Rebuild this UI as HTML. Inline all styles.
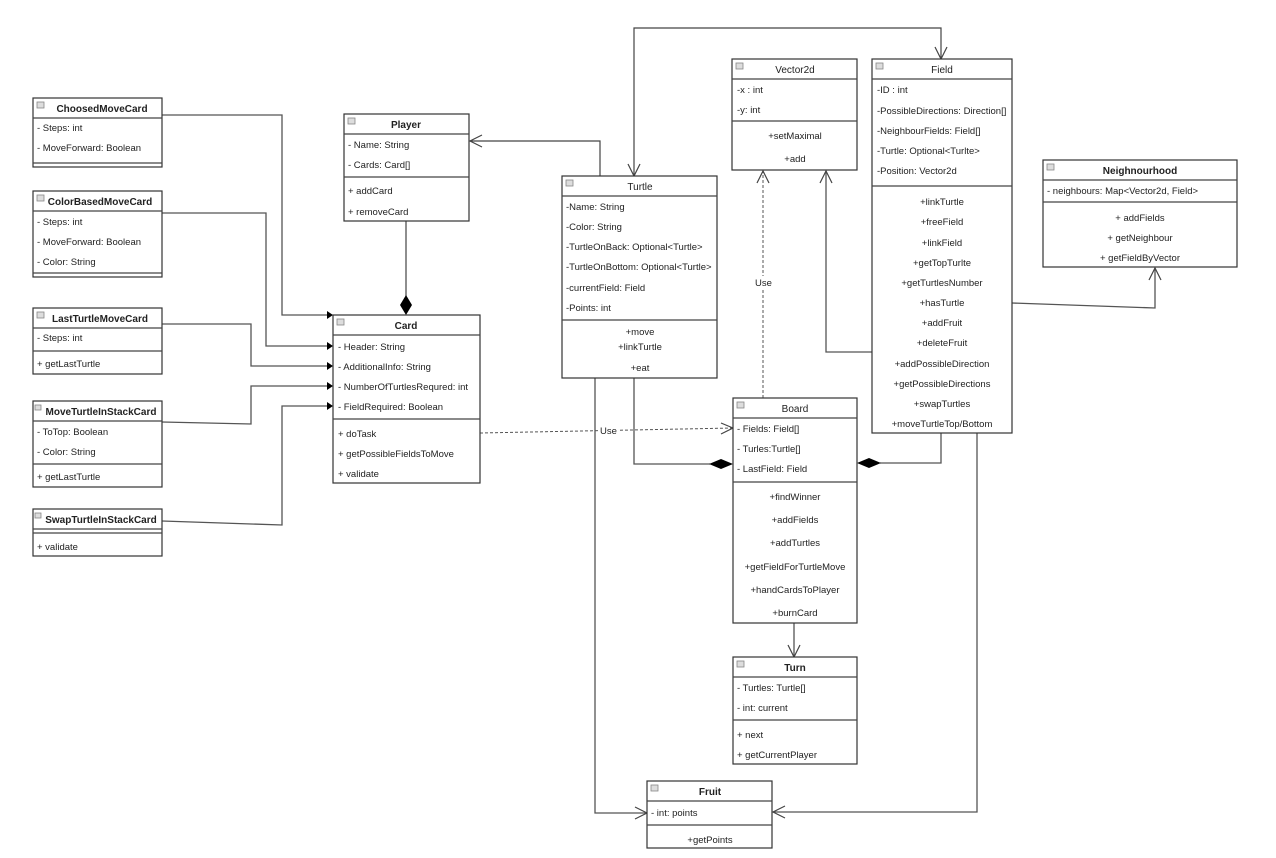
<!DOCTYPE html>
<html><head><meta charset="utf-8"><style>
html,body{margin:0;padding:0;background:#fff;}
svg{display:block;font-family:"Liberation Sans",sans-serif;font-size:9.5px;}
.b{fill:#fff;stroke:#333;stroke-width:1.2}
.l{stroke:#444;stroke-width:1.2;fill:none}
.c{stroke:#555;stroke-width:1.3;fill:none}
.d{stroke:#555;stroke-width:1;fill:none;stroke-dasharray:3,2}
text{fill:#222}
.t{font-size:10px}
.bd{font-weight:bold}
.m{text-anchor:middle}
.ic{fill:#ddd;stroke:#888;stroke-width:0.8}
</style></head><body>
<svg width="1276" height="858" viewBox="0 0 1276 858" xmlns="http://www.w3.org/2000/svg">
<rect width="1276" height="858" fill="#fff"/>

<!-- connectors -->
<path class="c" d="M162 115 H282 V315 H328"/>
<path class="c" d="M162 213 H266 V346 H328"/>
<path class="c" d="M162 324 H251 V366 H328"/>
<path class="c" d="M162 422 L251 424 V386 H328"/>
<path class="c" d="M162 521 L282 525 V406 H328"/>
<g fill="#000">
<polygon points="333,315 327,311 327,319"/>
<polygon points="333,346 327,342 327,350"/>
<polygon points="333,366 327,362 327,370"/>
<polygon points="333,386 327,382 327,390"/>
<polygon points="333,406 327,402 327,410"/>
</g>
<path class="l" d="M406 221 V296"/>
<polygon points="406,295 412,305 406,315 400,305" fill="#000"/>
<path class="l" d="M600 176 V141 H470"/>
<path class="l" d="M482 135 L470 141 L482 147"/>
<path class="l" d="M634 176 V28 H941 V59"/>
<path class="l" d="M628 164 L634 176 L640 164"/>
<path class="l" d="M935 47 L941 59 L947 47"/>
<path class="d" d="M480 433 L733 428"/>
<path class="l" d="M721 423 L733 428 L721 434"/>
<rect x="598" y="425" width="20" height="11" fill="#fff"/>
<text x="600" y="434">Use</text>
<path class="d" d="M763 398 V171"/>
<path class="l" d="M757 183 L763 171 L769 183"/>
<rect x="753" y="276" width="22" height="12" fill="#fff"/>
<text x="755" y="286">Use</text>
<path class="c" d="M872 352 H826 V171"/>
<path class="l" d="M820 183 L826 171 L832 183"/>
<path class="c" d="M1012 303 L1155 308 V268"/>
<path class="l" d="M1149 280 L1155 268 L1161 280"/>
<path class="c" d="M634 378 V464 H710"/>
<polygon points="733,464 721,459 709,464 721,469" fill="#000"/>
<path class="c" d="M941 433 V463 H880"/>
<polygon points="857,463 869,458 881,463 869,468" fill="#000"/>
<path class="c" d="M794 623 V657"/>
<path class="l" d="M788 645 L794 657 L800 645"/>
<path class="c" d="M595 378 V813 H647"/>
<path class="l" d="M635 807 L647 813 L635 819"/>
<path class="c" d="M977 433 V812 H773"/>
<path class="l" d="M785 806 L773 812 L785 818"/>

<!-- ChoosedMoveCard -->
<rect class="b" x="33" y="98" width="129" height="69"/>
<line class="l" x1="33" y1="118" x2="162" y2="118"/><line class="l" x1="33" y1="163" x2="162" y2="163"/>
<rect class="ic" x="37" y="102" width="7" height="6"/>
<text class="t bd m" x="102" y="112">ChoosedMoveCard</text>
<text x="37" y="131">- Steps: int</text><text x="37" y="151">- MoveForward: Boolean</text>

<!-- ColorBasedMoveCard -->
<rect class="b" x="33" y="191" width="129" height="86"/>
<line class="l" x1="33" y1="211" x2="162" y2="211"/><line class="l" x1="33" y1="273" x2="162" y2="273"/>
<rect class="ic" x="37" y="195" width="7" height="6"/>
<text class="t bd m" x="100" y="205">ColorBasedMoveCard</text>
<text x="37" y="225">- Steps: int</text><text x="37" y="245">- MoveForward: Boolean</text><text x="37" y="265">- Color: String</text>

<!-- LastTurtleMoveCard -->
<rect class="b" x="33" y="308" width="129" height="66"/>
<line class="l" x1="33" y1="328" x2="162" y2="328"/><line class="l" x1="33" y1="351" x2="162" y2="351"/>
<rect class="ic" x="37" y="312" width="7" height="6"/>
<text class="t bd m" x="100" y="322">LastTurtleMoveCard</text>
<text x="37" y="341">- Steps: int</text><text x="37" y="367">+ getLastTurtle</text>

<!-- MoveTurtleInStackCard -->
<rect class="b" x="33" y="401" width="129" height="86"/>
<line class="l" x1="33" y1="421" x2="162" y2="421"/><line class="l" x1="33" y1="464" x2="162" y2="464"/>
<rect class="ic" x="35" y="405" width="6" height="5"/>
<text class="t bd m" x="101" y="415">MoveTurtleInStackCard</text>
<text x="37" y="435">- ToTop: Boolean</text><text x="37" y="455">- Color: String</text><text x="37" y="480">+ getLastTurtle</text>

<!-- SwapTurtleInStackCard -->
<rect class="b" x="33" y="509" width="129" height="47"/>
<line class="l" x1="33" y1="529" x2="162" y2="529"/><line class="l" x1="33" y1="533" x2="162" y2="533"/>
<rect class="ic" x="35" y="513" width="6" height="5"/>
<text class="t bd m" x="101" y="523">SwapTurtleInStackCard</text>
<text x="37" y="550">+ validate</text>

<!-- Player -->
<rect class="b" x="344" y="114" width="125" height="107"/>
<line class="l" x1="344" y1="134" x2="469" y2="134"/><line class="l" x1="344" y1="177" x2="469" y2="177"/>
<rect class="ic" x="348" y="118" width="7" height="6"/>
<text class="t bd m" x="406" y="128">Player</text>
<text x="348" y="148">- Name: String</text><text x="348" y="168">- Cards: Card[]</text>
<text x="348" y="194">+ addCard</text><text x="348" y="215">+ removeCard</text>

<!-- Card -->
<rect class="b" x="333" y="315" width="147" height="168"/>
<line class="l" x1="333" y1="335" x2="480" y2="335"/><line class="l" x1="333" y1="419" x2="480" y2="419"/>
<rect class="ic" x="337" y="319" width="7" height="6"/>
<text class="t bd m" x="406" y="329">Card</text>
<text x="338" y="350">- Header: String</text><text x="338" y="370">- AdditionalInfo: String</text>
<text x="338" y="390">- NumberOfTurtlesRequred: int</text><text x="338" y="410">- FieldRequired: Boolean</text>
<text x="338" y="437">+ doTask</text><text x="338" y="457">+ getPossibleFieldsToMove</text><text x="338" y="477">+ validate</text>

<!-- Turtle -->
<rect class="b" x="562" y="176" width="155" height="202"/>
<line class="l" x1="562" y1="196" x2="717" y2="196"/><line class="l" x1="562" y1="320" x2="717" y2="320"/>
<rect class="ic" x="566" y="180" width="7" height="6"/>
<text class="t m" x="640" y="190">Turtle</text>
<text x="566" y="210">-Name: String</text><text x="566" y="230">-Color: String</text>
<text x="566" y="250">-TurtleOnBack: Optional&lt;Turtle&gt;</text><text x="566" y="270">-TurtleOnBottom: Optional&lt;Turtle&gt;</text>
<text x="566" y="291">-currentField: Field</text><text x="566" y="311">-Points: int</text>
<text class="m" x="640" y="335">+move</text><text class="m" x="640" y="350">+linkTurtle</text><text class="m" x="640" y="371">+eat</text>

<!-- Vector2d -->
<rect class="b" x="732" y="59" width="125" height="111"/>
<line class="l" x1="732" y1="79" x2="857" y2="79"/><line class="l" x1="732" y1="121" x2="857" y2="121"/>
<rect class="ic" x="736" y="63" width="7" height="6"/>
<text class="t m" x="795" y="73">Vector2d</text>
<text x="737" y="93">-x : int</text><text x="737" y="113">-y: int</text>
<text class="m" x="795" y="139">+setMaximal</text><text class="m" x="795" y="162">+add</text>

<!-- Field -->
<rect class="b" x="872" y="59" width="140" height="374"/>
<line class="l" x1="872" y1="79" x2="1012" y2="79"/><line class="l" x1="872" y1="186" x2="1012" y2="186"/>
<rect class="ic" x="876" y="63" width="7" height="6"/>
<text class="t m" x="942" y="73">Field</text>
<text x="877" y="93">-ID : int</text><text x="877" y="114">-PossibleDirections: Direction[]</text>
<text x="877" y="134">-NeighbourFields: Field[]</text><text x="877" y="154">-Turtle: Optional&lt;Turlte&gt;</text>
<text x="877" y="174">-Position: Vector2d</text>
<g class="m">
<text x="942" y="205">+linkTurtle</text><text x="942" y="225">+freeField</text><text x="942" y="246">+linkField</text>
<text x="942" y="266">+getTopTurlte</text><text x="942" y="286">+getTurtlesNumber</text><text x="942" y="306">+hasTurtle</text>
<text x="942" y="326">+addFruit</text><text x="942" y="346">+deleteFruit</text><text x="942" y="367">+addPossibleDirection</text>
<text x="942" y="387">+getPossibleDirections</text><text x="942" y="407">+swapTurtles</text><text x="942" y="427">+moveTurtleTop/Bottom</text>
</g>

<!-- Neighnourhood -->
<rect class="b" x="1043" y="160" width="194" height="107"/>
<line class="l" x1="1043" y1="180" x2="1237" y2="180"/><line class="l" x1="1043" y1="202" x2="1237" y2="202"/>
<rect class="ic" x="1047" y="164" width="7" height="6"/>
<text class="t bd m" x="1140" y="174">Neighnourhood</text>
<text x="1047" y="194">- neighbours: Map&lt;Vector2d, Field&gt;</text>
<text class="m" x="1140" y="221">+ addFields</text><text class="m" x="1140" y="241">+ getNeighbour</text><text class="m" x="1140" y="261">+ getFieldByVector</text>

<!-- Board -->
<rect class="b" x="733" y="398" width="124" height="225"/>
<line class="l" x1="733" y1="418" x2="857" y2="418"/><line class="l" x1="733" y1="482" x2="857" y2="482"/>
<rect class="ic" x="737" y="402" width="7" height="6"/>
<text class="t m" x="795" y="412">Board</text>
<text x="737" y="432">- Fields: Field[]</text><text x="737" y="452">- Turles:Turtle[]</text><text x="737" y="472">- LastField: Field</text>
<g class="m">
<text x="795" y="500">+findWinner</text><text x="795" y="523">+addFields</text><text x="795" y="546">+addTurtles</text>
<text x="795" y="570">+getFieldForTurtleMove</text><text x="795" y="593">+handCardsToPlayer</text><text x="795" y="616">+burnCard</text>
</g>

<!-- Turn -->
<rect class="b" x="733" y="657" width="124" height="107"/>
<line class="l" x1="733" y1="677" x2="857" y2="677"/><line class="l" x1="733" y1="720" x2="857" y2="720"/>
<rect class="ic" x="737" y="661" width="7" height="6"/>
<text class="t bd m" x="795" y="671">Turn</text>
<text x="737" y="691">- Turtles: Turtle[]</text><text x="737" y="711">- int: current</text>
<text x="737" y="738">+ next</text><text x="737" y="758">+ getCurrentPlayer</text>

<!-- Fruit -->
<rect class="b" x="647" y="781" width="125" height="67"/>
<line class="l" x1="647" y1="801" x2="772" y2="801"/><line class="l" x1="647" y1="825" x2="772" y2="825"/>
<rect class="ic" x="651" y="785" width="7" height="6"/>
<text class="t bd m" x="710" y="795">Fruit</text>
<text x="651" y="816">- int: points</text>
<text class="m" x="710" y="843">+getPoints</text>
</svg>
</body></html>
